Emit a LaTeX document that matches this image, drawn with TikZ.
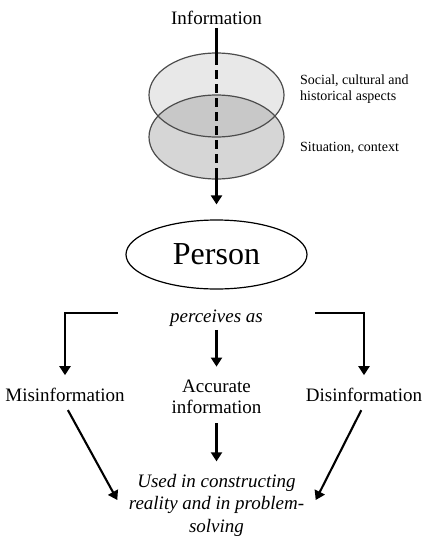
\documentclass[tikz,border=0pt]{standalone}
\usepackage{fontspec}
\setmainfont{Liberation Serif}
\usetikzlibrary{shapes.geometric,arrows.meta}
\begin{document}
\begin{tikzpicture}[x=1pt, y=-1pt,
    lbl/.style={font=\fontsize{19}{21}\selectfont, align=center},
    arr/.style={line width=2.1pt, -{Triangle[width=11pt,length=9pt]}}]
      \useasboundingbox (0,0) rectangle (425,536);
      \fill[gray!18] (216.5,95) ellipse [x radius=67.5pt, y radius=42pt];
      \fill[gray!32] (216.5,137) ellipse [x radius=67.5pt, y radius=42pt];
      \begin{scope}
            \clip (216.5,95) ellipse [x radius=67.5pt, y radius=42pt];
            \fill[gray!43] (216.5,137) ellipse [x radius=67.5pt, y radius=42pt];
      \end{scope}
      \draw[line width=1.2pt, black!70] (216.5,95) ellipse [x radius=67.5pt, y radius=42pt];
      \draw[line width=1.2pt, black!70] (216.5,137) ellipse [x radius=67.5pt, y radius=42pt];
      \coordinate (etop) at (216.5,56);
      \coordinate (ebot) at (216.5,177);
      \node[lbl] (info) at (216.5,18) {Information};
      \node[anchor=west, inner sep=0, align=left, font=\fontsize{14}{16}\selectfont] (social) at (300,89.2) {Social, cultural and\\historical aspects};
      \node[anchor=west, inner sep=0, font=\fontsize{14}{16}\selectfont] (situ) at (300,148) {Situation, context};
      \node[draw, line width=1.2pt, ellipse, minimum width=181pt, minimum height=69pt, font=\fontsize{32}{36}\selectfont] (person) at (216.5,254.5) {Person};
      \node[lbl, font=\fontsize{19}{21}\selectfont\itshape] (perc) at (216.5,318) {perceives as};
      \node[lbl] (mis) at (65,394.5) {Misinformation};
      \node[lbl] (acc) at (216.5,397) {Accurate\\information};
      \node[lbl] (dis) at (364,394.5) {Disinformation};
      \node[lbl, font=\fontsize{19}{22.5}\selectfont\itshape] (used) at (216.5,505) {Used in constructing\\reality and in problem-\\solving};
      \draw[line width=2.1pt] (info.south) -- (etop);
      \draw[line width=2.1pt, dash pattern=on 9pt off 5pt] (etop) -- (ebot);
      \draw[arr, shorten >=15pt] (ebot) -- (person.north);
      \draw[arr, shorten >=10pt] (perc.south) -- (acc.north);
      \draw[arr, shorten <=6pt, shorten >=9pt] (acc.south) -- (used.north);
      \draw[arr, shorten >=9pt] ([xshift=-49pt, yshift=5pt]perc.west) -| (mis.north);
      \draw[arr, shorten >=9pt] ([xshift=49pt, yshift=5pt]perc.east) -| (dis.north);
      \draw[arr, shorten <=6pt] (mis.south) -- ([xshift=-8pt, yshift=5pt]used.west);
      \draw[arr, shorten <=6pt] (dis.south) -- ([xshift=8pt, yshift=5pt]used.east);
\end{tikzpicture}
\end{document}
